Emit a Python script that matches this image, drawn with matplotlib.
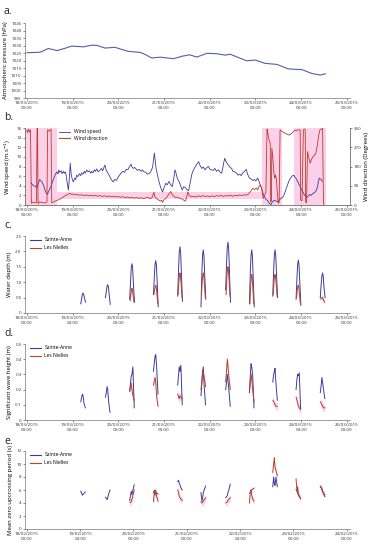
import numpy as np
import matplotlib as mpl

mpl.use("Agg")
import matplotlib.pyplot as plt

plt.rcParams["font.family"] = ["Open Sans", "DejaVu Sans"]

BLUE = "#3c3c9a"
RED = "#b5452a"
PINK = "#fbd0e8"

# ---- data (time in days since 18/03/2015 00:00) ----
pressure_t = [0.0, 0.29, 0.47, 0.66, 0.84, 0.98, 1.24, 1.42, 1.53, 1.71, 1.93, 2.04, 2.22,
              2.48, 2.59, 2.73, 2.92, 3.21, 3.39, 3.56, 3.72, 3.94, 4.16, 4.34, 4.45, 4.60,
              4.81, 5.0, 5.21, 5.47, 5.72, 6.02, 6.24, 6.42, 6.53]
pressure_hpa = [1025.2, 1025.5, 1028.0, 1026.6, 1028.2, 1029.6, 1029.1, 1030.2, 1030.1, 1028.3,
                1028.8, 1027.7, 1026.1, 1025.4, 1024.0, 1021.7, 1022.2, 1021.2, 1022.8, 1023.8,
                1022.3, 1024.8, 1024.5, 1023.6, 1024.2, 1022.3, 1019.8, 1020.3, 1018.1, 1017.4,
                1014.4, 1013.9, 1011.3, 1010.3, 1011.1]

wind_speed_obs = [
    (0.09, 4.6), (0.12, 4.3), (0.15, 4.0), (0.18, 3.9), (0.22, 3.6), (0.25, 4.4), (0.28, 5.3),
    (0.31, 5.0), (0.33, 4.8), (0.37, 4.0), (0.40, 3.0), (0.43, 2.4), (0.45, 2.2), (0.48, 2.9),
    (0.50, 3.3), (0.54, 4.2), (0.57, 5.0), (0.60, 5.8), (0.63, 6.5), (0.66, 6.9), (0.68, 6.4),
    (0.70, 7.3), (0.72, 6.8), (0.75, 7.1), (0.77, 6.5), (0.80, 7.0), (0.82, 6.6), (0.84, 6.9),
    (0.86, 6.2), (0.88, 4.8), (0.91, 3.1), (0.93, 5.5), (0.95, 8.7), (0.97, 6.4), (1.00, 5.1),
    (1.02, 4.8), (1.05, 5.6), (1.07, 5.3), (1.09, 6.2), (1.12, 5.9), (1.15, 6.5), (1.18, 6.1),
    (1.20, 6.7), (1.23, 6.4), (1.26, 7.0), (1.28, 6.6), (1.31, 7.3), (1.34, 6.9), (1.37, 7.1),
    (1.40, 6.6), (1.42, 7.0), (1.45, 6.7), (1.48, 7.3), (1.50, 7.0), (1.53, 7.5), (1.56, 6.9),
    (1.60, 7.2), (1.63, 7.6), (1.66, 7.1), (1.69, 7.9), (1.71, 8.3), (1.73, 7.4), (1.76, 6.9),
    (1.78, 6.5), (1.81, 6.0), (1.84, 5.4), (1.87, 5.0), (1.89, 4.8), (1.92, 5.3), (1.96, 5.1),
    (1.99, 5.7), (2.02, 6.1), (2.05, 6.5), (2.07, 6.7), (2.10, 7.0), (2.14, 6.8), (2.17, 7.4),
    (2.21, 7.3), (2.24, 7.9), (2.26, 8.2), (2.28, 8.5), (2.30, 7.9), (2.33, 7.6), (2.36, 7.8),
    (2.39, 7.5), (2.42, 7.2), (2.46, 7.4), (2.50, 7.0), (2.53, 7.3), (2.56, 6.9), (2.60, 6.8),
    (2.64, 6.4), (2.68, 6.6), (2.71, 6.9), (2.75, 7.8), (2.77, 9.2), (2.79, 10.8), (2.81, 9.0),
    (2.83, 7.4), (2.86, 6.2), (2.89, 4.9), (2.92, 3.9), (2.95, 3.1), (2.97, 2.7), (3.00, 3.6),
    (3.04, 4.5), (3.07, 4.2), (3.11, 4.9), (3.14, 4.3), (3.18, 3.8), (3.21, 5.2), (3.24, 7.3),
    (3.26, 6.8), (3.29, 5.6), (3.33, 4.9), (3.36, 4.1), (3.40, 3.1), (3.43, 3.8), (3.47, 3.6),
    (3.50, 3.2), (3.54, 3.0), (3.57, 4.5), (3.61, 6.4), (3.64, 7.2), (3.69, 8.0), (3.72, 8.5),
    (3.76, 9.0), (3.79, 8.2), (3.83, 7.6), (3.86, 7.9), (3.90, 7.3), (3.93, 7.7), (3.97, 8.0),
    (4.00, 7.5), (4.04, 7.3), (4.08, 7.2), (4.11, 7.6), (4.15, 7.0), (4.19, 7.3), (4.22, 6.9),
    (4.26, 6.6), (4.29, 7.8), (4.31, 8.9), (4.33, 9.7), (4.36, 9.0), (4.39, 8.5), (4.41, 8.3),
    (4.45, 7.8), (4.48, 7.6), (4.51, 7.0), (4.55, 6.9), (4.59, 6.6), (4.62, 6.2), (4.66, 6.4),
    (4.69, 6.1), (4.72, 6.6), (4.76, 7.0), (4.80, 7.4), (4.83, 6.4), (4.87, 5.6), (4.90, 5.5),
    (4.94, 5.1), (4.98, 5.3), (5.01, 5.0), (5.05, 5.6), (5.08, 4.9), (5.11, 4.1), (5.13, 3.6),
    (5.16, 2.6), (5.20, 1.7), (5.23, 1.2), (5.27, 0.9), (5.30, 0.4), (5.34, 0.1), (5.37, 0.6),
    (5.41, 1.0), (5.45, 0.8), (5.49, 0.7), (5.52, 1.0), (5.56, 1.4), (5.60, 1.6), (5.63, 2.2),
    (5.66, 3.0), (5.70, 4.0), (5.73, 4.9), (5.77, 5.6), (5.80, 6.0), (5.84, 6.2), (5.87, 5.7),
    (5.90, 5.4), (5.92, 5.0), (5.96, 4.2), (5.99, 3.6), (6.03, 2.9), (6.06, 2.3), (6.09, 1.9),
    (6.13, 1.6), (6.16, 1.9), (6.19, 2.2), (6.22, 2.0), (6.26, 2.4), (6.30, 2.6), (6.33, 3.0),
    (6.36, 3.8), (6.38, 5.0), (6.40, 5.6), (6.42, 5.4), (6.44, 5.3), (6.46, 4.9),
]

wind_dir_obs = [
    (0.00, 350), (0.02, 338), (0.04, 355), (0.06, 342), (0.08, 350), (0.10, 8), (0.13, 14),
    (0.17, 10), (0.21, 12), (0.225, 358), (0.235, 360), (0.245, 6), (0.28, 15), (0.33, 12),
    (0.38, 9), (0.44, 14), (0.455, 352), (0.48, 345), (0.51, 350), (0.53, 355), (0.545, 10),
    (0.58, 14), (0.62, 18), (0.66, 22), (0.70, 25), (0.75, 31), (0.80, 38), (0.85, 45),
    (0.90, 50), (0.94, 55), (0.98, 49), (1.02, 52), (1.06, 47), (1.10, 50), (1.15, 46),
    (1.20, 48), (1.25, 44), (1.30, 47), (1.35, 43), (1.40, 46), (1.45, 42), (1.50, 45),
    (1.55, 41), (1.60, 44), (1.65, 40), (1.70, 43), (1.75, 39), (1.80, 42), (1.85, 38),
    (1.90, 41), (1.95, 37), (2.00, 40), (2.05, 36), (2.10, 39), (2.15, 34), (2.20, 37),
    (2.25, 33), (2.30, 36), (2.35, 32), (2.40, 35), (2.45, 31), (2.50, 34), (2.55, 30),
    (2.60, 33), (2.65, 36), (2.70, 29), (2.74, 35), (2.78, 60), (2.80, 38), (2.84, 30),
    (2.88, 24), (2.92, 18), (2.95, 22), (2.97, 12), (3.00, 25), (3.04, 30), (3.08, 42),
    (3.12, 55), (3.15, 63), (3.18, 48), (3.22, 40), (3.26, 35), (3.30, 37), (3.35, 30),
    (3.40, 28), (3.45, 20), (3.47, 18), (3.50, 40), (3.52, 62), (3.55, 45), (3.60, 38),
    (3.65, 41), (3.70, 37), (3.75, 43), (3.80, 39), (3.85, 44), (3.90, 40), (3.95, 42),
    (4.00, 38), (4.05, 43), (4.10, 39), (4.15, 44), (4.20, 41), (4.25, 45), (4.30, 40),
    (4.35, 44), (4.40, 42), (4.45, 46), (4.50, 41), (4.55, 45), (4.60, 43), (4.65, 47),
    (4.70, 44), (4.75, 48), (4.80, 46), (4.85, 52), (4.90, 65), (4.94, 78), (4.98, 72),
    (5.02, 80), (5.05, 70), (5.08, 88), (5.11, 93), (5.14, 75), (5.17, 31), (5.20, 45),
    (5.23, 60), (5.255, 355), (5.27, 340), (5.29, 312), (5.31, 296), (5.325, 290), (5.335, 15),
    (5.35, 20), (5.36, 265), (5.38, 230), (5.40, 163), (5.42, 125), (5.44, 140), (5.46, 120),
    (5.48, 60), (5.50, 8), (5.52, 12), (5.54, 350), (5.58, 345), (5.62, 338), (5.66, 335),
    (5.70, 330), (5.74, 327), (5.78, 332), (5.82, 340), (5.86, 350), (5.90, 348), (5.95, 352),
    (5.98, 350), (5.99, 23), (6.02, 20), (6.05, 350), (6.07, 355), (6.09, 352), (6.10, 15),
    (6.12, 10), (6.14, 250), (6.17, 220), (6.20, 195), (6.23, 215), (6.26, 225), (6.29, 233),
    (6.32, 240), (6.35, 272), (6.38, 320), (6.41, 350), (6.44, 355), (6.47, 358), (6.49, 5),
    (6.50, 3),
]

# low-tide windows (centre of each record, days)
tide_centres = [1.23, 1.77, 2.30, 2.82, 3.35, 3.86, 4.40, 4.92, 5.43, 5.94, 6.47]
arc_offsets = [-0.05, -0.03, -0.015, 0.0, 0.015, 0.03, 0.055]
red_offsets = [-0.04, -0.025, -0.01, 0.0, 0.01, 0.025, 0.045]
wave_offsets = [-0.05, -0.03, -0.015, 0.0, 0.02, 0.05]

depth_sainte_anne = [
    [0.30, 0.48, 0.60, 0.65, 0.60, 0.48, 0.35],
    [0.50, 0.72, 0.87, 0.92, 0.85, 0.62, 0.28],
    [0.45, 1.05, 1.48, 1.60, 1.45, 1.00, 0.35],
    [0.60, 1.20, 1.58, 1.70, 1.55, 1.05, 0.20],
    [0.55, 1.45, 1.98, 2.15, 1.95, 1.35, 0.38],
    [0.20, 1.35, 1.88, 2.05, 1.85, 1.30, 0.45],
    [0.75, 1.65, 2.12, 2.30, 2.10, 1.50, 0.35],
    [0.30, 1.35, 1.88, 2.05, 1.85, 1.25, 0.20],
    [0.55, 1.40, 1.88, 2.05, 1.88, 1.35, 0.50],
    [0.45, 1.15, 1.58, 1.72, 1.55, 1.05, 0.25],
    [0.50, 0.95, 1.20, 1.30, 1.18, 0.85, 0.50],
]
depth_les_nielles = [
    None, None,
    [0.40, 0.62, 0.76, 0.80, 0.74, 0.55, 0.35],
    [0.60, 0.78, 0.88, 0.90, 0.85, 0.62, 0.30],
    [0.60, 1.00, 1.24, 1.30, 1.22, 0.95, 0.50],
    [0.60, 1.00, 1.24, 1.30, 1.22, 0.95, 0.50],
    [0.60, 1.15, 1.42, 1.50, 1.40, 1.05, 0.55],
    [0.30, 0.90, 1.18, 1.25, 1.15, 0.80, 0.30],
    [0.60, 1.00, 1.20, 1.25, 1.18, 0.92, 0.55],
    [0.50, 0.75, 0.87, 0.90, 0.85, 0.60, 0.30],
    [0.45, 0.48, 0.50, 0.50, 0.46, 0.40, 0.35],
]

hs_sainte_anne = [
    [0.12, 0.15, 0.17, 0.16, 0.11, 0.08],
    [0.15, 0.18, 0.22, 0.20, 0.12, 0.05],
    [0.19, 0.25, 0.29, 0.30, 0.35, 0.08],
    [0.32, 0.38, 0.42, 0.43, 0.35, 0.17],
    [0.23, 0.30, 0.35, 0.32, 0.36, 0.10],
    [0.16, 0.25, 0.30, 0.35, 0.22, 0.10],
    [0.20, 0.25, 0.30, 0.26, 0.20, 0.09],
    [0.18, 0.30, 0.37, 0.35, 0.30, 0.08],
    [0.25, 0.30, 0.32, 0.34, 0.24, 0.13],
    [0.20, 0.27, 0.30, 0.29, 0.31, 0.07],
    [0.18, 0.23, 0.28, 0.25, 0.20, 0.14],
]
hs_les_nielles = [
    None, None,
    [0.19, 0.22, 0.24, 0.20, 0.16, 0.13],
    [0.23, 0.26, 0.28, 0.25, 0.15, 0.09],
    [0.17, 0.15, 0.14, 0.16, 0.15, 0.14],
    [0.20, 0.26, 0.33, 0.31, 0.28, 0.22],
    [0.25, 0.33, 0.40, 0.36, 0.28, 0.20],
    [0.19, 0.25, 0.30, 0.27, 0.20, 0.12],
    [0.13, 0.12, 0.11, 0.10, 0.09, 0.09],
    [0.15, 0.13, 0.11, 0.09, 0.08, 0.07],
    [0.12, 0.11, 0.10, 0.09, 0.08, 0.08],
]

tz_sainte_anne = [
    [5.8, 5.5, 5.2, 5.3, 5.5, 5.7],
    [4.9, 4.7, 4.5, 4.8, 5.4, 6.0],
    [4.4, 5.2, 5.8, 5.3, 6.0, 6.8],
    [5.6, 5.9, 6.0, 5.7, 5.5, 5.4],
    [7.3, 7.5, 7.0, 6.8, 6.3, 6.0],
    [5.6, 4.3, 4.8, 5.5, 6.0, 6.6],
    [4.8, 5.0, 5.1, 5.6, 6.0, 6.9],
    [5.5, 5.6, 5.8, 6.0, 6.1, 6.3],
    [6.5, 8.0, 7.0, 6.7, 8.0, 6.5],
    [6.1, 5.8, 5.5, 5.2, 5.0, 4.7],
    [6.6, 6.4, 6.2, 5.8, 5.4, 5.0],
]
tz_les_nielles = [
    None, None,
    [4.1, 4.1, 4.2, 4.6, 5.2, 6.0],
    [4.2, 5.8, 5.2, 5.9, 5.0, 4.3],
    [6.0, 5.6, 5.0, 4.8, 4.6, 4.4],
    [4.2, 4.0, 4.1, 4.3, 4.5, 4.8],
    [4.0, 4.1, 4.2, 4.4, 4.6, 4.8],
    [4.0, 5.8, 6.0, 5.2, 4.6, 4.3],
    [8.7, 10.1, 11.0, 9.5, 9.0, 8.2],
    [7.7, 5.8, 6.5, 5.5, 5.0, 4.7],
    [6.5, 6.3, 6.0, 5.8, 5.5, 5.3],
]

march_labels = ["%02d/03/2015\n00:00" % d for d in range(18, 26)]
feb_labels = ["%02d/02/2015\n00:00" % d for d in range(18, 25)]

# ---- figure ----
W, H = 376, 550
fig = plt.figure(figsize=(W / 100, H / 100), dpi=100)
fig.patch.set_facecolor("white")


def make_axes(top_px, bottom_px):
    return fig.add_axes([25 / W, 1 - bottom_px / H, 325 / W, (bottom_px - top_px) / H])


def style(ax, ylabel, yticks, ylabels, xticks, xlabels, right=False):
    ax.set_xlim(-0.04, 7.07)
    ax.set_ylim(yticks[0], yticks[-1])
    ax.set_yticks(yticks)
    ax.set_yticklabels(ylabels)
    ax.set_xticks(xticks)
    ax.set_xticklabels(xlabels)
    ax.tick_params(labelsize=3.2, length=1.5, width=0.4, pad=1, colors="#333333")
    for s in ("top", "right"):
        ax.spines[s].set_visible(right and s == "right")
    for s in ax.spines.values():
        s.set_linewidth(0.5)
        s.set_color("#777777")
    ax.set_ylabel(ylabel, fontsize=4.3, labelpad=2)


days = list(range(8))

# a. pressure
ax_a = make_axes(23, 98)
ax_a.plot(pressure_t, pressure_hpa, color="#5060a8", lw=0.8)
style(ax_a, "Atmospheric pressure (hPa)", list(range(995, 1046, 5)),
      [str(v) for v in range(995, 1046, 5)], days, march_labels)

# b. wind
ax_b = make_axes(128, 205)
ax_b2 = ax_b.twinx()
for x0, x1 in [(-0.04, 0.65), (5.15, 5.58), (5.85, 6.55)]:
    ax_b.axvspan(x0, x1, color=PINK, lw=0, zorder=0)
ax_b.fill_between([0.65, 5.15], 1.2, 2.8, color=PINK, lw=0, zorder=0)
wt, ws = zip(*wind_speed_obs)
dt, dd = zip(*wind_dir_obs)
l1, = ax_b.plot(wt, ws, color=BLUE, lw=0.6, zorder=3, label="Wind speed")
l2, = ax_b2.plot(dt, dd, color="#c0392b", lw=0.6, zorder=2, label="Wind direction")
style(ax_b, "Wind speed (m.s$^{-1}$)", list(range(0, 17, 2)),
      [str(v) for v in range(0, 17, 2)], days, march_labels, right=True)
ax_b2.set_ylim(0, 360)
ax_b2.set_yticks([0, 90, 180, 270, 360])
ax_b2.tick_params(labelsize=3.2, length=1.5, width=0.4, pad=1, colors="#333333")
for s in ax_b2.spines.values():
    s.set_linewidth(0.5)
    s.set_color("#777777")
ax_b2.spines["top"].set_visible(False)
ax_b2.set_ylabel("Wind direction (Degrees)", fontsize=4.3, labelpad=2)
l2_legend = mpl.lines.Line2D([], [], color="#a0522d", lw=0.8)
ax_b.legend([l1, l2_legend], ["Wind speed", "Wind direction"], loc="upper left",
            bbox_to_anchor=(0.09, 1.04), fontsize=3.6, frameon=False, handlelength=2.2,
            labelspacing=0.3)


def plot_clusters(ax, offsets_b, blue, offsets_r, red, band):
    for c, vb, vr in zip(tide_centres, blue, red):
        if vr is not None:
            tr = [c + o for o in offsets_r]
            ax.fill_between(tr, [v - band for v in vr], [v + band for v in vr],
                            color=PINK, lw=0, zorder=1)
        tb = [c + o for o in offsets_b]
        ax.plot(tb, vb, color=BLUE, lw=0.7, zorder=2)
        if vr is not None:
            ax.plot(tr, vr, color=RED, lw=0.7, zorder=3)
    handles = [mpl.lines.Line2D([], [], color=BLUE, lw=0.8),
               mpl.lines.Line2D([], [], color=RED, lw=0.8)]
    ax.legend(handles, ["Sainte-Anne", "Les Nielles"], loc="upper left",
              bbox_to_anchor=(0.0, 1.04), fontsize=3.6, frameon=False,
              handlelength=2.2, labelspacing=0.6)


# c. water depth
ax_c = make_axes(236, 313)
plot_clusters(ax_c, arc_offsets, depth_sainte_anne, red_offsets, depth_les_nielles, 0.08)
style(ax_c, "Water depth (m)", [0, 0.5, 1.0, 1.5, 2.0, 2.5],
      ["0", "0.5", "1.0", "1.5", "2.0", "2.5"], days, march_labels)

# d. significant wave height
ax_d = make_axes(344, 420)
plot_clusters(ax_d, wave_offsets, hs_sainte_anne, wave_offsets, hs_les_nielles, 0.025)
style(ax_d, "Significant wave height (m)", [0, 0.1, 0.2, 0.3, 0.4, 0.5],
      ["0", "0.1", "0.2", "0.3", "0.4", "0.5"], days, march_labels)

# e. mean zero upcrossing period
ax_e = make_axes(451, 529)
plot_clusters(ax_e, wave_offsets, tz_sainte_anne, wave_offsets, tz_les_nielles, 0.5)
style(ax_e, "Mean zero upcrossing period (s)", list(range(0, 13, 2)),
      [str(v) for v in range(0, 13, 2)], list(np.linspace(0, 7, 7)), feb_labels)

for lab, y in [("a.", 12), ("b.", 118), ("c.", 226), ("d.", 334), ("e.", 441)]:
    fig.text(4 / W, 1 - y / H, lab, fontsize=7.5, va="center", ha="left", color="#222222")

fig.savefig("out.png", dpi=100, facecolor="white")
